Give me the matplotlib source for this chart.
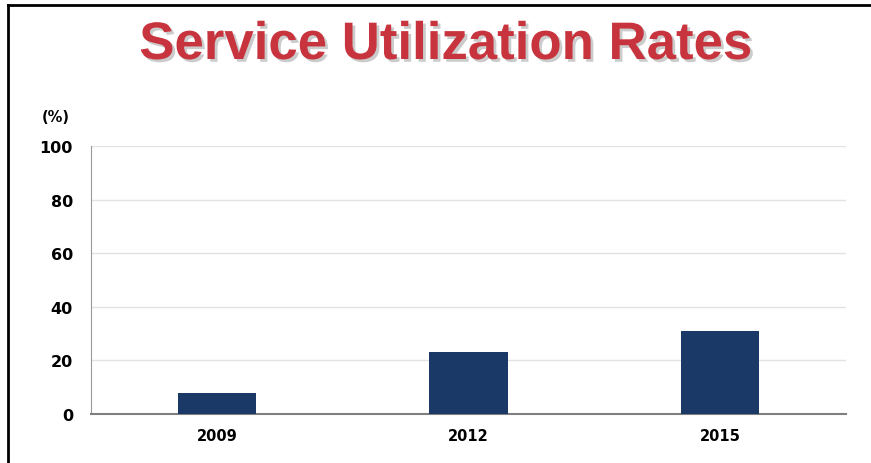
import matplotlib
matplotlib.use("Agg")
import matplotlib.pyplot as plt
import matplotlib.patheffects as pe
from matplotlib.lines import Line2D

years = ["2009", "2012", "2015"]
rates = [8, 23, 31]
yticks = [0, 20, 40, 60, 80, 100]

fig = plt.figure(figsize=(8.71, 4.64), dpi=100)
ax = fig.add_axes([91/871, 49/464, 755/871, 268/464])

x = range(len(years))
ax.bar(x, rates, width=0.31, color="#1B3966", zorder=3)
ax.set_xlim(-0.5, 2.5)
ax.set_ylim(0, 100)
ax.set_yticks(yticks)
ax.set_yticklabels([str(t) for t in yticks], fontsize=11.5, fontweight="bold",
                   family="DejaVu Sans")
ax.set_xticks(list(x))
ax.set_xticklabels(years, fontsize=10.5, fontweight="bold", family="DejaVu Sans")
ax.tick_params(axis="both", length=0)
ax.tick_params(axis="y", pad=13)
ax.tick_params(axis="x", pad=10)
ax.grid(axis="y", color="#E3E3E3", linewidth=1, zorder=0)
for s in ["top", "right"]:
    ax.spines[s].set_visible(False)
ax.spines["left"].set_color("#9A9A9A")
ax.spines["bottom"].set_color("#7F7F7F")
ax.spines["bottom"].set_linewidth(1.5)

fig.text(56/871, 1 - 118/464, "(%)", fontsize=10.5, fontweight="bold",
         family="DejaVu Sans", ha="center", va="center")

t = fig.text(445/871, 1 - 46/464, "Service Utilization Rates", fontsize=38,
             fontweight="bold", family="Liberation Sans", color="#C8343E",
             ha="center", va="center")
t.set_path_effects([pe.SimplePatchShadow(offset=(2, -2), shadow_rgbFace="#999999", alpha=0.5),
                    pe.Normal()])

# frame lines (left and top)
fig.add_artist(Line2D([8/871, 8/871], [0, 1 - 6/464], transform=fig.transFigure,
                      color="black", linewidth=2))
fig.add_artist(Line2D([8/871, 1], [1 - 6/464, 1 - 6/464], transform=fig.transFigure,
                      color="black", linewidth=2))

fig.savefig("out.png", dpi=100)
